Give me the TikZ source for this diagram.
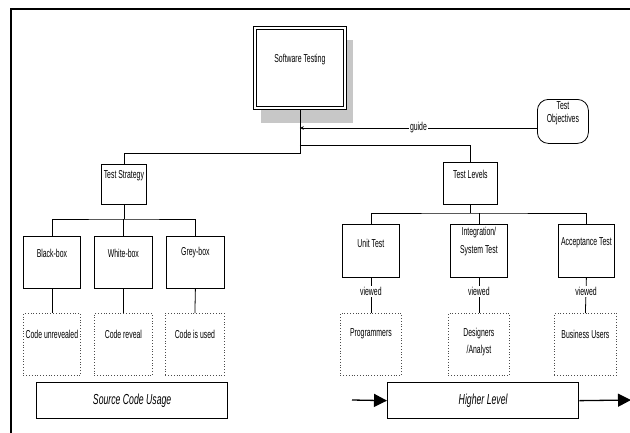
\documentclass[tikz,border=0pt]{standalone}
\usepackage{fontspec}
\setmainfont{Liberation Sans}[FakeStretch=0.6]
\usetikzlibrary{arrows.meta,calc}
\begin{document}
\begin{tikzpicture}[x=1pt,y=-1pt,
  font=\fontsize{11.5}{12}\selectfont,
  every label/.style={anchor=center,inner sep=0pt,font=\fontsize{11.5}{17}\selectfont,align=center},
  box/.style={draw=black,line width=0.8pt,fill=white,anchor=north west,inner sep=0pt},
  dotbox/.style={draw=black!70,dotted,line width=0.8pt,anchor=north west,inner sep=0pt},
  bigbox/.style={draw=black,line width=1.3pt,fill=white,anchor=north west,inner sep=0pt,font=\fontsize{14.5}{15}\selectfont\itshape},
  conn/.style={draw=black,line width=0.8pt},
  lbl/.style={fill=white,inner sep=1pt}]
\useasboundingbox (0,0) rectangle (630,432);
% outer frame
\coordinate (fBL) at (11,433);
\coordinate (fTL) at (11,9);
\coordinate (fTR) at (631,9);
\draw[line width=2pt] (fBL) -- (fTL) -- (fTR);
% root with shadow
\fill[black!22] (261,40) rectangle (353,123);
\node[box,minimum width=93pt,minimum height=83pt,
  label={[yshift=-34pt]north:Software Testing}] (st) at (253,26) {};
\draw[line width=0.8pt] ($(st.north west)+(3,3)$) rectangle ($(st.south east)+(-3,-3)$);
% objectives
\node[box,rounded corners=11pt,minimum width=51pt,minimum height=44pt,
  label={[yshift=-14.5pt,font=\fontsize{11.5}{13}\selectfont]north:Test\\Objectives}] (obj) at (537,99) {};
% level 1
\node[box,minimum width=45pt,minimum height=40pt,label={[yshift=-12pt]north:Test Strategy}] (strat) at (101,164) {};
\node[box,minimum width=54pt,minimum height=42pt,label={[yshift=-12pt]north:Test Levels}] (lev) at (443,162) {};
% level 2 left
\node[box,minimum width=57pt,minimum height=52pt,label={[yshift=-17pt]north:Black-box}] (bb) at (23,236) {};
\node[box,minimum width=58pt,minimum height=52pt,label={[yshift=-17pt]north:White-box}] (wb) at (94,236) {};
\node[box,minimum width=58pt,minimum height=52pt,label={[yshift=-17pt]north:Grey-box}] (gb) at (166,236) {};
% level 2 right
\node[box,minimum width=57pt,minimum height=53pt,label={[yshift=-19pt]north:Unit Test}] (ut) at (342,224) {};
\node[box,minimum width=57pt,minimum height=53pt,label={[yshift=-18pt,font=\fontsize{11.5}{18}\selectfont]north:Integration/\\System Test}] (it) at (450,224) {};
\node[box,minimum width=56pt,minimum height=53pt,label={[yshift=-19pt]north:Acceptance Test}] (at) at (558,224) {};
% dotted boxes
\node[dotbox,minimum width=57pt,minimum height=62pt,label={[yshift=-21pt]north:Code unrevealed}] (cu) at (23,313) {};
\node[dotbox,minimum width=58pt,minimum height=62pt,label={[yshift=-21pt]north:Code reveal}] (cr) at (94,313) {};
\node[dotbox,minimum width=59pt,minimum height=62pt,label={[yshift=-21pt]north:Code is used}] (cs) at (165,313) {};
\node[dotbox,minimum width=61pt,minimum height=62pt,label={[yshift=-21pt]north:Programmers}] (pr) at (340,313) {};
\node[dotbox,minimum width=61pt,minimum height=62pt,label={[yshift=-29.5pt]north:Designers\\/Analyst}] (de) at (448,313) {};
\node[dotbox,minimum width=62pt,minimum height=62pt,label={[yshift=-21pt]north:Business Users}] (bu) at (554,313) {};
% bottom bars
\fill[black!20] (37,383) rectangle (227.5,418.5);
\node[bigbox,minimum width=191pt,minimum height=36pt] (scu) at (36,382) {Source Code Usage};
\fill[black!20] (388,383) rectangle (578.5,418.5);
\node[bigbox,minimum width=191pt,minimum height=36pt] (hl) at (387,382) {Higher Level};
% bus coordinates
\coordinate (busR) at (0,145);
\coordinate (busL) at (0,153);
\coordinate (bus2L) at (0,219);
\coordinate (bus2R) at (0,213);
% root connectors
\draw[conn] (st.south) -- (st.south |- busL) -| (strat.north);
\draw[conn] (st.south |- busR) -| (lev.north);
\draw[conn,-{Stealth[length=4pt,width=3.5pt]}] (obj.west |- 0,128) -- (st.south |- 0,128)
  node[lbl,pos=0.5] {guide};
% strategy children
\draw[conn] (strat.south) -- (strat.south |- bus2L);
\draw[conn] (bb.north) |- (strat.south |- bus2L) -| (gb.north);
\draw[conn] (wb.north) -- (wb.north |- bus2L);
% levels children
\draw[conn,line width=1.2pt] (lev.south) -- (lev.south |- bus2R);
\draw[conn] (ut.north) |- (lev.south |- bus2R) -| (at.north);
\draw[conn] (it.north) -- (it.north |- bus2R);
% to dotted boxes
\draw[conn] (bb.south) -- (cu.north);
\draw[conn] (wb.south) -- (cr.north);
\draw[conn] (gb.south) -- (cs.north);
\draw[conn] (ut.south) -- (pr.north) node[lbl,pos=0.39] {viewed};
\draw[conn] (it.south) -- (de.north) node[lbl,pos=0.39] {viewed};
\draw[conn] (at.south) -- (bu.north) node[lbl,pos=0.39] {viewed};
% higher level arrows
\coordinate (hin) at (352,400);
\coordinate (hout) at (631,400);
\draw[line width=1.3pt,-{Triangle[length=13pt,width=13pt]}] (hin) -- (hl.west);
\draw[line width=1.3pt,-{Triangle[length=13pt,width=13pt]}] (hl.east) -- (hout);
\end{tikzpicture}
\end{document}
